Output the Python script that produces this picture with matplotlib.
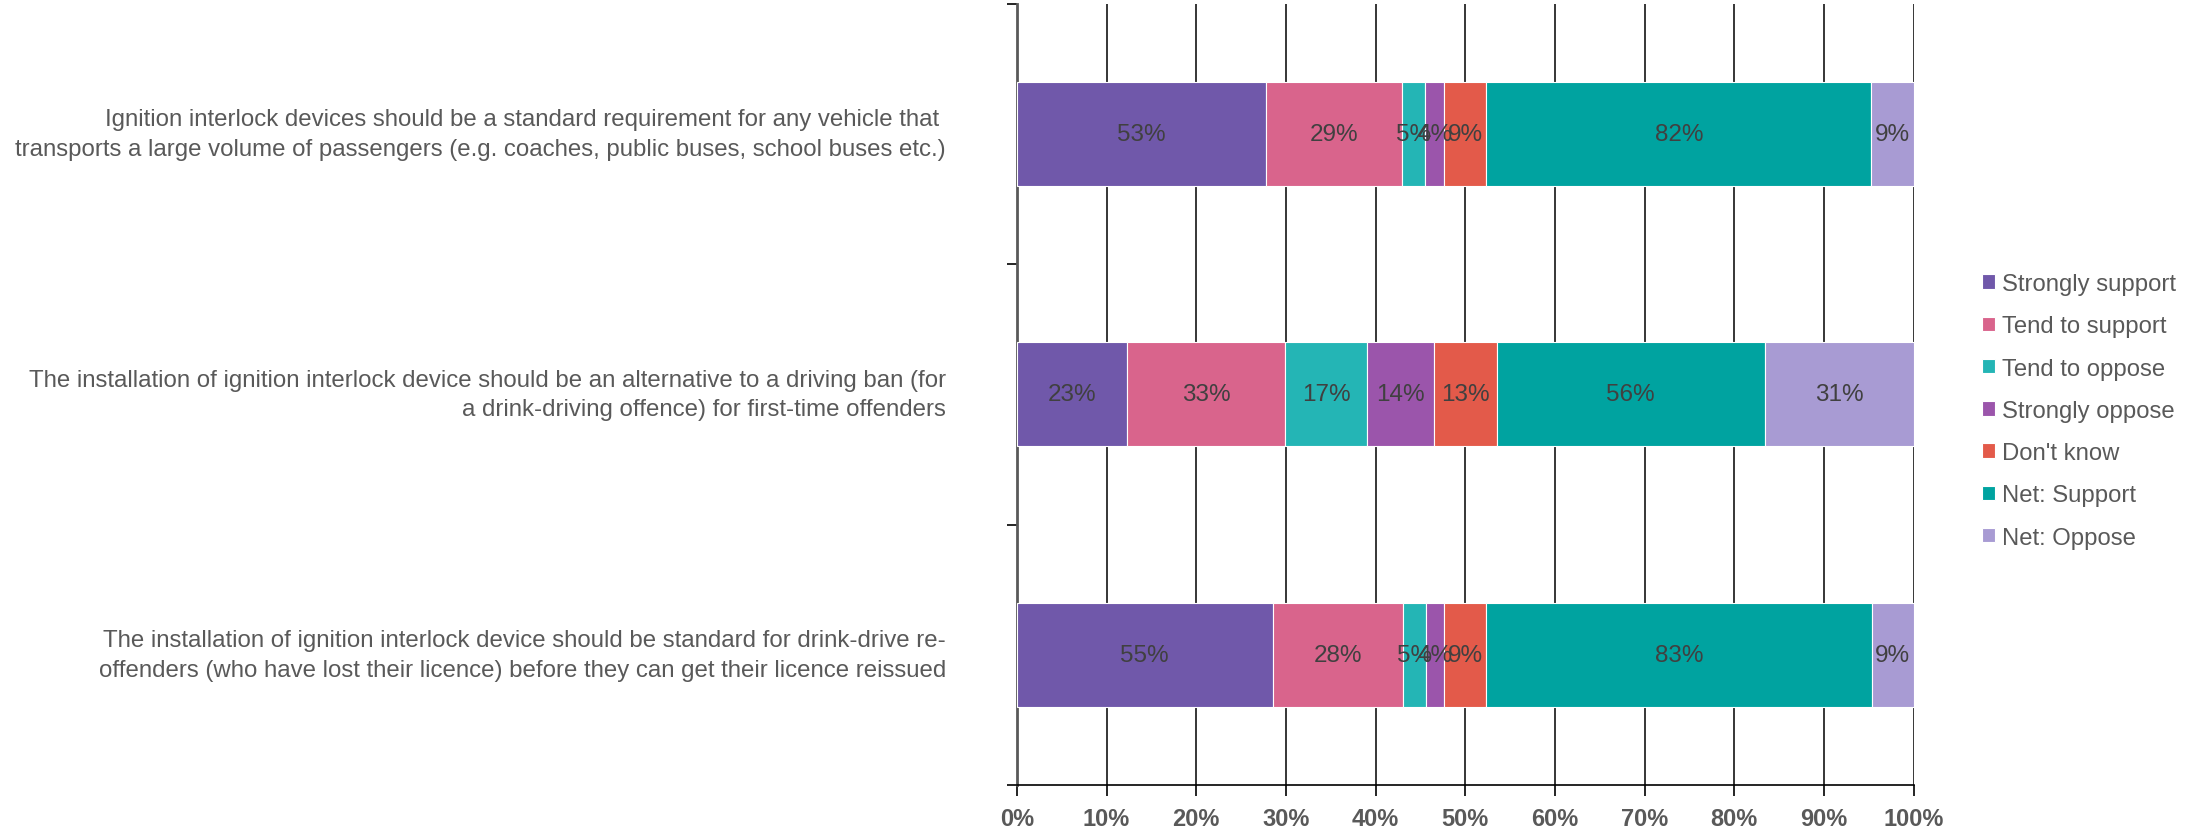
import numpy as np
import matplotlib
matplotlib.use('Agg')
import matplotlib.pyplot as plt

plt.rcParams['font.family'] = ['Liberation Sans', 'DejaVu Sans']

# statements (top to bottom)
statements = [
    'Ignition interlock devices should be a standard requirement for any vehicle that \n'
    'transports a large volume of passengers (e.g. coaches, public buses, school buses etc.)',
    'The installation of ignition interlock device should be an alternative to a driving ban (for\n'
    'a drink-driving offence) for first-time offenders',
    'The installation of ignition interlock device should be standard for drink-drive re-\n'
    'offenders (who have lost their licence) before they can get their licence reissued',
]
series_names = ['Strongly support', 'Tend to support', 'Tend to oppose', 'Strongly oppose',
                "Don't know", 'Net: Support', 'Net: Oppose']
colors = ['#7058AA', '#D9648C', '#24B5B5', '#9B55AB', '#E35A4A', '#00A3A0', '#A89BD3']

# percentages shown on the bars, one list per statement
values = np.array([
    [53, 29, 5, 4, 9, 82, 9],
    [23, 33, 17, 14, 13, 56, 31],
    [55, 28, 5, 4, 9, 83, 9],
])
shares = values / values.sum(axis=1, keepdims=True)

fig = plt.figure(figsize=(22.05, 8.29), dpi=100)
ax = fig.add_axes([0.4612, 0.052, 0.4067, 0.942])

ypos = np.arange(len(statements))
left = np.zeros(len(statements))
for k, name in enumerate(series_names):
    ax.barh(ypos, shares[:, k], left=left, height=0.4, color=colors[k],
            edgecolor='white', linewidth=0.8, label=name, zorder=3)
    for j in range(len(statements)):
        ax.text(left[j] + shares[j, k] / 2, ypos[j], f'{values[j, k]}%',
                ha='center', va='center', fontsize=17.5, color='#404040', zorder=4)
    left += shares[:, k]

ax.set_xlim(0, 1)
ax.set_ylim(2.5, -0.5)
ax.set_xticks(np.arange(0, 1.01, 0.1))
ax.set_xticklabels([f'{int(round(t * 100))}%' for t in np.arange(0, 1.01, 0.1)],
                   fontsize=17, fontweight='bold', color='#595959')
ax.set_yticks([-0.5, 0.5, 1.5, 2.5])
ax.set_yticklabels([])
ax.tick_params(axis='y', length=7, width=1.2, color='black')
ax.tick_params(axis='x', length=8, width=1.2, color='black', pad=8)
ax.grid(axis='x', color='black', linewidth=1.1, zorder=0)

for s in ['top', 'right']:
    ax.spines[s].set_visible(False)
ax.spines['left'].set_color('#595959')
ax.spines['left'].set_linewidth(2)
ax.spines['bottom'].set_color('black')
ax.spines['bottom'].set_linewidth(1.2)

for j, txt in enumerate(statements):
    ax.text(-0.079, ypos[j], txt, transform=ax.get_yaxis_transform(),
            ha='right', va='center', multialignment='right',
            fontsize=17.3, color='#595959', linespacing=1.45)

leg = ax.legend(loc='center left', bbox_to_anchor=(1.052, 0.479), frameon=False,
                fontsize=17.2, handlelength=0.55, handleheight=0.55,
                handletextpad=0.3, labelspacing=0.85)
for t in leg.get_texts():
    t.set_color('#595959')

fig.savefig('out.png', dpi=100)
